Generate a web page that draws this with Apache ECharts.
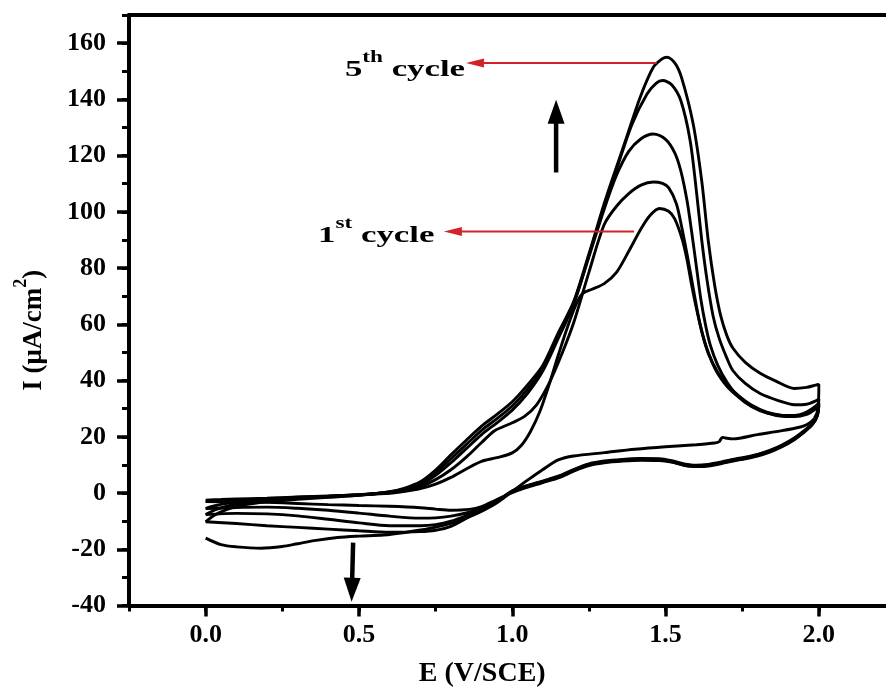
<!DOCTYPE html>
<html><head><meta charset="utf-8">
<script src="https://cdn.jsdelivr.net/npm/echarts@6/dist/echarts.min.js"></script>
<style>html,body{margin:0;padding:0;background:#fff}#c{width:886px;height:687px}</style>
</head><body><div id="c"></div>
<script>
// ---------- data (E in V/SCE, I in µA/cm²) ----------
const xTickLabels = [0, 0.5, 1.0, 1.5, 2.0];
const yTickLabels = [-40, -20, 0, 20, 40, 60, 80, 100, 120, 140, 160];

const cycle1 = [[0,-2.5],[0.05,-2.3],[0.1,-2.1],[0.2,-1.8],[0.3,-1.4],[0.4,-1.0],[0.5,-0.6],[0.6,-0.1],[0.65,0.6],[0.7,1.6],[0.75,3.2],[0.8,5.6],[0.85,8.6],[0.9,11.3],[0.95,12.6],[1.0,14.3],[1.03,17],[1.06,22],[1.09,29],[1.12,38.5],[1.15,49],[1.18,59],[1.21,67.5],[1.23,71],[1.26,72.5],[1.3,74.5],[1.34,78.5],[1.38,86],[1.42,94],[1.45,98.8],[1.48,101.2],[1.51,100.2],[1.53,97.5],[1.555,90],[1.57,83],[1.585,74],[1.6,66],[1.615,59],[1.63,53],[1.65,47],[1.67,42.5],[1.7,38],[1.74,34],[1.78,31],[1.83,28.5],[1.88,27.3],[1.92,27.2],[1.96,28],[1.99,30],[2.0,31],
  [1.995,27.5],[1.98,24.5],[1.95,21.5],[1.92,19],[1.88,16.5],[1.84,14.6],[1.8,13.2],[1.76,12.2],[1.72,11.4],[1.68,10.4],[1.64,9.6],[1.6,9.4],[1.56,9.9],[1.52,11],[1.48,11.6],[1.42,11.7],[1.36,11.4],[1.3,10.8],[1.25,9.8],[1.2,7.8],[1.16,5.8],[1.12,4.4],[1.08,3.1],[1.04,1.8],[1.0,0.2],[0.95,-2.3],[0.9,-4.8],[0.86,-5.8],[0.8,-6.1],[0.75,-5.7],[0.7,-5.2],[0.6,-4.7],[0.5,-4.4],[0.4,-4.1],[0.3,-3.7],[0.2,-3.3],[0.1,-3.1],[0,-3.0]];

const cycle2 = [[0,-3.0],[0.05,-2.7],[0.1,-2.4],[0.2,-1.9],[0.3,-1.5],[0.4,-1.1],[0.5,-0.6],[0.6,0.1],[0.65,0.9],[0.7,2.3],[0.75,4.8],[0.8,8.3],[0.85,12.8],[0.9,18],[0.94,22],[0.97,23.6],[1.0,25],[1.04,27.3],[1.08,31.5],[1.12,39],[1.16,49],[1.2,60.5],[1.25,78.5],[1.3,95.5],[1.34,102],[1.38,106.5],[1.42,109.5],[1.46,110.6],[1.49,110.1],[1.51,108.6],[1.535,103],[1.552,95],[1.57,85],[1.59,73],[1.605,64],[1.62,56.5],[1.64,49.5],[1.67,43],[1.7,38.5],[1.74,34.5],[1.78,31.3],[1.83,28.8],[1.88,27.6],[1.92,27.4],[1.96,28.4],[1.99,30.5],[2.0,31.5],
  [1.995,27.6],[1.98,24.6],[1.95,21.6],[1.92,19.2],[1.88,16.7],[1.84,14.8],[1.8,13.4],[1.76,12.4],[1.72,11.6],[1.68,10.6],[1.64,9.8],[1.6,9.5],[1.56,10],[1.52,11.1],[1.48,11.8],[1.42,11.9],[1.36,11.6],[1.3,11],[1.25,10],[1.2,8],[1.16,6],[1.12,4.6],[1.08,3.3],[1.04,2],[1.0,0.4],[0.95,-2.6],[0.9,-5.4],[0.86,-6.8],[0.8,-8.2],[0.75,-8.8],[0.7,-8.9],[0.6,-8.2],[0.5,-7.1],[0.4,-6.1],[0.3,-5.4],[0.2,-5.0],[0.1,-5.1],[0,-5.5]];

const cycle3 = [[0,-5.5],[0.03,-4.5],[0.07,-3.6],[0.12,-2.9],[0.2,-2.3],[0.3,-1.7],[0.4,-1.2],[0.5,-0.6],[0.6,0.3],[0.65,1.2],[0.7,3],[0.75,6.3],[0.8,10.8],[0.85,15.8],[0.9,20.8],[0.95,25],[1.0,29.5],[1.05,35.5],[1.1,43.5],[1.15,55],[1.2,67],[1.25,84],[1.3,101],[1.34,113],[1.38,121.5],[1.42,126],[1.46,127.7],[1.5,125.8],[1.53,121],[1.55,114.5],[1.57,104],[1.585,93],[1.6,81],[1.615,69],[1.63,60],[1.645,53],[1.67,45.5],[1.7,39.5],[1.74,34],[1.78,30.8],[1.83,28.5],[1.88,27.6],[1.92,27.6],[1.96,28.8],[1.99,31],[2.0,32],
  [1.995,27.8],[1.98,24.8],[1.95,21.8],[1.92,19.4],[1.88,16.9],[1.84,15],[1.8,13.6],[1.76,12.6],[1.72,11.8],[1.68,10.8],[1.64,10],[1.6,9.7],[1.56,10.2],[1.52,11.3],[1.48,12],[1.42,12.1],[1.36,11.8],[1.3,11.2],[1.25,10.2],[1.2,8.2],[1.16,6.2],[1.12,4.8],[1.08,3.5],[1.04,2.2],[1.0,0.6],[0.95,-2.8],[0.9,-5.9],[0.86,-7.6],[0.8,-10],[0.75,-11.2],[0.7,-11.6],[0.6,-11.6],[0.5,-10.6],[0.4,-9.3],[0.3,-8.1],[0.2,-7.4],[0.1,-7.2],[0,-7.6]];

const cycle4 = [[0,-7.6],[0.03,-6],[0.07,-4.6],[0.12,-3.5],[0.2,-2.6],[0.3,-1.9],[0.4,-1.3],[0.5,-0.7],[0.6,0.4],[0.65,1.5],[0.7,3.4],[0.75,7.2],[0.8,12.2],[0.85,17.3],[0.9,22.3],[0.95,26.5],[1.0,31],[1.05,37],[1.1,44.5],[1.15,56],[1.2,67.5],[1.25,84.5],[1.3,102],[1.34,115],[1.39,131],[1.44,142],[1.47,145.8],[1.49,146.7],[1.52,145.2],[1.55,139.5],[1.58,125.5],[1.6,108],[1.618,90],[1.635,76],[1.655,63],[1.675,55],[1.7,48],[1.72,43.5],[1.76,39],[1.81,35.3],[1.87,32.8],[1.92,31.4],[1.96,31.6],[1.99,32.8],[2.0,33.5],
  [1.995,28],[1.98,25],[1.95,22],[1.92,19.6],[1.88,17.1],[1.84,15.2],[1.8,13.8],[1.76,12.8],[1.72,12],[1.68,11],[1.64,10.2],[1.6,9.9],[1.56,10.4],[1.52,11.5],[1.48,12.2],[1.42,12.3],[1.36,12],[1.3,11.4],[1.25,10.4],[1.2,8.4],[1.16,6.4],[1.12,5],[1.08,3.7],[1.04,2.4],[1.0,0.8],[0.95,-3],[0.9,-6.4],[0.86,-8.4],[0.8,-11.8],[0.75,-13.2],[0.7,-13.7],[0.6,-13.9],[0.5,-13.4],[0.4,-12.8],[0.3,-12.2],[0.2,-11.6],[0.1,-10.8],[0,-10.2]];

const cycle5 = [[0,-10.2],[0.03,-7.8],[0.07,-5.8],[0.12,-4.3],[0.2,-3.1],[0.3,-2.2],[0.4,-1.5],[0.5,-0.8],[0.6,0.5],[0.65,1.8],[0.7,4],[0.75,8.2],[0.8,13.6],[0.85,18.8],[0.9,23.8],[0.95,28],[1.0,32.5],[1.05,38.5],[1.1,45.5],[1.15,57],[1.2,68],[1.25,85],[1.3,103],[1.34,116],[1.373,126.5],[1.417,140.7],[1.46,151.4],[1.49,154.5],[1.504,155],[1.53,153],[1.552,147.8],[1.59,131.3],[1.618,111],[1.639,90],[1.66,74],[1.68,63],[1.7,56],[1.72,51.5],[1.76,46.5],[1.81,42.5],[1.86,39.8],[1.92,37.2],[1.96,37.6],[1.99,38.4],[2.0,38.6],
  [1.997,30],[1.985,26.5],[1.96,24.3],[1.94,23.5],[1.88,22.2],[1.8,20.8],[1.72,19.3],[1.695,19.6],[1.685,19.8],[1.675,18.3],[1.66,17.8],[1.6,17.2],[1.5,16.5],[1.4,15.6],[1.3,14.4],[1.2,13.2],[1.15,11.8],[1.1,8.4],[1.05,4.6],[1.0,0.6],[0.95,-3.4],[0.9,-6.4],[0.85,-8.8],[0.8,-10.8],[0.73,-12.6],[0.65,-14],[0.58,-14.9],[0.5,-15.3],[0.43,-15.8],[0.36,-16.8],[0.3,-18],[0.25,-19],[0.18,-19.6],[0.1,-19.1],[0.05,-18.3],[0,-16]];

const cycles = [cycle1, cycle2, cycle3, cycle4, cycle5];

// annotation anchors (data coordinates)
const redArrows = [ {from:[1.471,152.9], to:[0.849,152.9]}, {from:[1.397,93.0], to:[0.777,93.0]} ];
const blackArrows = [ {from:[1.143,114.0], to:[1.143,139.9]}, {from:[0.481,-17.6], to:[0.476,-38.6]} ];
const cycleLabels = [ {at:[0.846,150.4], num:'5', sup:'th'}, {at:[0.746,91.6], num:'1', sup:'st'} ];

// ---------- chart ----------
const FONT = 'Liberation Serif';
const chart = echarts.init(document.getElementById('c'), null, {renderer:'canvas'});
const isTick = (v, arr) => arr.some(t => Math.abs(t - v) < 1e-6);
const X_MIN = -0.25, X_MAX = 2.25;

chart.setOption({
  animation: false,
  backgroundColor: '#fff',
  grid: { left: 129, top: 15, right: -9.5, bottom: 81.4, show: false, outerBoundsMode: 'none', containLabel: false },
  xAxis: [
    { type: 'value', gridIndex: 0, position: 'bottom', min: X_MIN, max: X_MAX, interval: 0.25,
      axisLine: { show: true, onZero: false, lineStyle: { color: '#000', width: 4 } },
      axisTick: { show: true, length: 6, lineStyle: { color: '#000', width: 3 } },
      axisLabel: { margin: 17, color: '#000', fontFamily: FONT, fontWeight: 'bold', fontSize: 26,
        formatter: v => isTick(v, xTickLabels) ? v.toFixed(1) : '' },
      splitLine: { show: false },
      name: 'E (V/SCE)', nameLocation: 'middle', nameGap: 54,
      nameTextStyle: { color: '#000', fontFamily: FONT, fontWeight: 'bold', fontSize: 28, padding: [0, 60, 0, 0] } },
    { type: 'value', gridIndex: 0, position: 'bottom', min: X_MIN, max: X_MAX,
      axisLine: { show: false, onZero: false },
      axisTick: { show: true, length: 11, customValues: xTickLabels, lineStyle: { color: '#000', width: 3.5 } },
      axisLabel: { show: false }, splitLine: { show: false } },
    { type: 'value', gridIndex: 0, position: 'top', min: X_MIN, max: X_MAX,
      axisLine: { show: true, onZero: false, lineStyle: { color: '#000', width: 4 } },
      axisTick: { show: false }, axisLabel: { show: false }, splitLine: { show: false } }
  ],
  yAxis: [
    { type: 'value', gridIndex: 0, position: 'left', min: -40, max: 170, interval: 10,
      axisLine: { show: true, onZero: false, lineStyle: { color: '#000', width: 4 } },
      axisTick: { show: true, length: 7, lineStyle: { color: '#000', width: 3 } },
      axisLabel: { margin: 23, color: '#000', fontFamily: FONT, fontWeight: 'bold', fontSize: 26,
        formatter: v => isTick(v, yTickLabels) ? String(v) : '' },
      splitLine: { show: false },
      name: '{n|I (\u03bcA/cm}{s|2}{n|)}', nameLocation: 'middle', nameGap: 73,
      nameTextStyle: { padding: [0, 40, 0, 0],
        rich: { n: { color: '#000', fontFamily: FONT, fontWeight: 'bold', fontSize: 27, lineHeight: 44 },
                s: { color: '#000', fontFamily: FONT, fontWeight: 'bold', fontSize: 18, lineHeight: 18, verticalAlign: 'top' } } } },
    { type: 'value', gridIndex: 0, position: 'left', min: -40, max: 170,
      axisLine: { show: false, onZero: false },
      axisTick: { show: true, length: 12, customValues: yTickLabels, lineStyle: { color: '#000', width: 3.5 } },
      axisLabel: { show: false }, splitLine: { show: false } }
  ],
  series: cycles.map((d, i) => ({
    name: 'cycle ' + (i + 1), type: 'line', xAxisIndex: 0, yAxisIndex: 0, data: d,
    showSymbol: false, symbol: 'none', smooth: 0.3,
    lineStyle: { color: '#000', width: 2.9 }, z: 3
  }))
});

// ---------- annotations (positioned through the chart's own scales) ----------
const RED = '#d3222a';
const g = [];
const toPx = p => chart.convertToPixel({ xAxisIndex: 0, yAxisIndex: 0 }, p);
function arrow(from, to, color, w, headL, headW) {
  const a = toPx(from), b = toPx(to);
  const dx = b[0] - a[0], dy = b[1] - a[1], L = Math.hypot(dx, dy), ux = dx / L, uy = dy / L;
  const bx = b[0] - ux * headL, by = b[1] - uy * headL;
  g.push({ type: 'line', z: 10, shape: { x1: a[0], y1: a[1], x2: bx + ux * 2, y2: by + uy * 2 }, style: { stroke: color, lineWidth: w } });
  g.push({ type: 'polygon', z: 10, shape: { points: [[b[0], b[1]], [bx - uy * headW, by + ux * headW], [bx + uy * headW, by - ux * headW]] }, style: { fill: color } });
}
redArrows.forEach(r => arrow(r.from, r.to, RED, 2, 18, 4.5));
blackArrows.forEach(r => arrow(r.from, r.to, '#000', 4.5, 24, 8.5));
cycleLabels.forEach(l => {
  const p = toPx(l.at);
  g.push({ type: 'text', z: 10, x: p[0], y: p[1], scaleX: 1.45, scaleY: 1,
    style: { text: '{b|' + l.num + '}{s|' + l.sup + '}{b| cycle}', align: 'right', verticalAlign: 'middle',
      rich: { b: { fill: '#000', fontFamily: FONT, fontWeight: 'bold', fontSize: 24, lineHeight: 40 },
              s: { fill: '#000', fontFamily: FONT, fontWeight: 'bold', fontSize: 16, lineHeight: 16, verticalAlign: 'top' } } } });
});
chart.setOption({ graphic: g });
</script>
</body></html>
